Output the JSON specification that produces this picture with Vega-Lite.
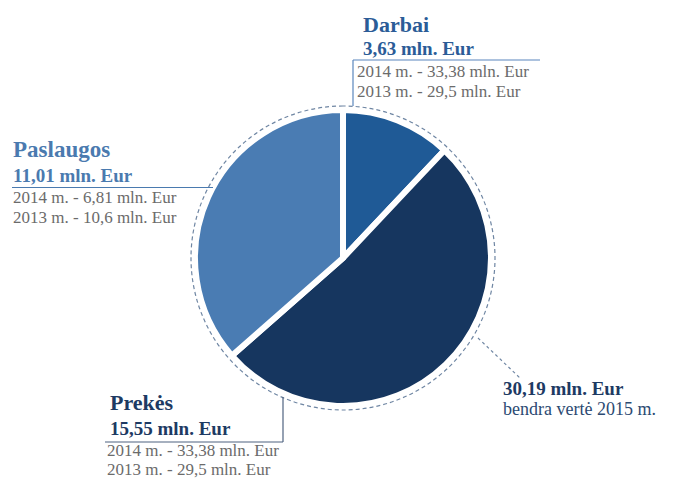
{
  "$schema": "https://vega.github.io/schema/vega-lite/v6.json",
  "width": 660,
  "height": 440,
  "autosize": {"type": "none"},
  "padding": {"left": 13, "top": 38, "right": 5, "bottom": 1},
  "background": "white",
  "config": {"view": {"stroke": null}, "text": {"font": "Liberation Serif"}},
  "data": {"values": [
    {"category": "Darbai", "value": 3.63, "v2014": 33.38, "v2013": 29.5},
    {"category": "Prekės", "value": 15.55, "v2014": 33.38, "v2013": 29.5},
    {"category": "Paslaugos", "value": 11.01, "v2014": 6.81, "v2013": 10.6}
  ]},
  "transform": [
    {"calculate": "indexof(['Darbai', 'Prekės', 'Paslaugos'], datum.category)", "as": "sortIndex"},
    {"calculate": "replace(format(datum.value, '.2f'), '.', ',') + ' mln. Eur'", "as": "valueLabel"},
    {"calculate": "['2014 m. - ' + replace('' + datum.v2014, '.', ',') + ' mln. Eur', '2013 m. - ' + replace('' + datum.v2013, '.', ',') + ' mln. Eur']", "as": "history"}
  ],
  "layer": [
    {
      "mark": {"type": "arc", "radius": 148, "stroke": "white", "strokeWidth": 6},
      "encoding": {
        "theta": {"field": "value", "type": "quantitative", "stack": true},
        "order": {"field": "sortIndex", "type": "quantitative"},
        "color": {"field": "category", "type": "nominal",
          "scale": {"domain": ["Darbai", "Prekės", "Paslaugos"], "range": ["#1f5a96", "#16365f", "#4a7cb3"]},
          "legend": null}
      }
    },
    {
      "transform": [{"aggregate": [{"op": "sum", "field": "value", "as": "total"}]}],
      "mark": {"type": "arc", "radius": 152, "filled": false, "stroke": "#6f86a3", "strokeWidth": 1.2, "strokeDash": [4, 3]},
      "encoding": {"theta": {"field": "total", "type": "quantitative"}}
    },
    {
      "data": {"values": [{}]},
      "mark": {"type": "rule", "stroke": "#5a86bd", "strokeWidth": 1.2},
      "encoding": {"x": {"value": 340}, "y": {"value": 22}, "x2": {"value": 527}, "y2": {"value": 22}}
    },
    {
      "data": {"values": [{}]},
      "mark": {"type": "rule", "stroke": "#5a86bd", "strokeWidth": 1.2},
      "encoding": {"x": {"value": 340}, "y": {"value": 22}, "x2": {"value": 340}, "y2": {"value": 68}}
    },
    {
      "data": {"values": [{}]},
      "mark": {"type": "rule", "stroke": "#4a7aaf", "strokeWidth": 1.2},
      "encoding": {"x": {"value": -1}, "y": {"value": 149.5}, "x2": {"value": 200}, "y2": {"value": 149.5}}
    },
    {
      "data": {"values": [{}]},
      "mark": {"type": "rule", "stroke": "#4f6380", "strokeWidth": 1.2},
      "encoding": {"x": {"value": 92}, "y": {"value": 404}, "x2": {"value": 270}, "y2": {"value": 404}}
    },
    {
      "data": {"values": [{}]},
      "mark": {"type": "rule", "stroke": "#4f6380", "strokeWidth": 1.2},
      "encoding": {"x": {"value": 270}, "y": {"value": 359}, "x2": {"value": 270}, "y2": {"value": 404}}
    },
    {
      "data": {"values": [{}]},
      "mark": {"type": "rule", "stroke": "#6f86a3", "strokeWidth": 1.2, "strokeDash": [3, 3]},
      "encoding": {"x": {"value": 465}, "y": {"value": 300}, "x2": {"value": 507}, "y2": {"value": 340}}
    },
    {
      "transform": [{"filter": "datum.category === 'Darbai'"}],
      "mark": {"type": "text", "x": 350, "y": -6, "align": "left", "baseline": "alphabetic", "fontSize": 22, "fontWeight": "bold", "color": "#2b5c97"},
      "encoding": {"text": {"field": "category"}}
    },
    {
      "transform": [{"filter": "datum.category === 'Darbai'"}],
      "mark": {"type": "text", "x": 350, "y": 17, "align": "left", "baseline": "alphabetic", "fontSize": 19, "fontWeight": "bold", "color": "#2b5c97"},
      "encoding": {"text": {"field": "valueLabel"}}
    },
    {
      "transform": [{"filter": "datum.category === 'Darbai'"}],
      "mark": {"type": "text", "x": 344, "y": 39, "align": "left", "baseline": "alphabetic", "fontSize": 17, "lineHeight": 20, "color": "#6b6b6b"},
      "encoding": {"text": {"field": "history"}}
    },
    {
      "transform": [{"filter": "datum.category === 'Paslaugos'"}],
      "mark": {"type": "text", "x": 0, "y": 119, "align": "left", "baseline": "alphabetic", "fontSize": 23, "fontWeight": "bold", "color": "#4a7aaf"},
      "encoding": {"text": {"field": "category"}}
    },
    {
      "transform": [{"filter": "datum.category === 'Paslaugos'"}],
      "mark": {"type": "text", "x": 0, "y": 144, "align": "left", "baseline": "alphabetic", "fontSize": 19, "fontWeight": "bold", "color": "#4a7aaf"},
      "encoding": {"text": {"field": "valueLabel"}}
    },
    {
      "transform": [{"filter": "datum.category === 'Paslaugos'"}],
      "mark": {"type": "text", "x": 0, "y": 165, "align": "left", "baseline": "alphabetic", "fontSize": 17, "lineHeight": 20, "color": "#6b6b6b"},
      "encoding": {"text": {"field": "history"}}
    },
    {
      "transform": [{"filter": "datum.category === 'Prekės'"}],
      "mark": {"type": "text", "x": 97, "y": 372, "align": "left", "baseline": "alphabetic", "fontSize": 22, "fontWeight": "bold", "color": "#1d3a63"},
      "encoding": {"text": {"field": "category"}}
    },
    {
      "transform": [{"filter": "datum.category === 'Prekės'"}],
      "mark": {"type": "text", "x": 97, "y": 397, "align": "left", "baseline": "alphabetic", "fontSize": 19, "fontWeight": "bold", "color": "#1d3a63"},
      "encoding": {"text": {"field": "valueLabel"}}
    },
    {
      "transform": [{"filter": "datum.category === 'Prekės'"}],
      "mark": {"type": "text", "x": 94, "y": 418, "align": "left", "baseline": "alphabetic", "fontSize": 17, "lineHeight": 19, "color": "#6b6b6b"},
      "encoding": {"text": {"field": "history"}}
    },
    {
      "transform": [
        {"aggregate": [{"op": "sum", "field": "value", "as": "total"}]},
        {"calculate": "replace(format(datum.total, '.2f'), '.', ',') + ' mln. Eur'", "as": "totalLabel"}
      ],
      "mark": {"type": "text", "x": 490, "y": 357, "align": "left", "baseline": "alphabetic", "fontSize": 19, "fontWeight": "bold", "color": "#1d3a63"},
      "encoding": {"text": {"field": "totalLabel"}}
    },
    {
      "data": {"values": [{"note": "bendra vertė 2015 m."}]},
      "mark": {"type": "text", "x": 490, "y": 377, "align": "left", "baseline": "alphabetic", "fontSize": 18, "color": "#2c4a72"},
      "encoding": {"text": {"field": "note"}}
    }
  ]
}
